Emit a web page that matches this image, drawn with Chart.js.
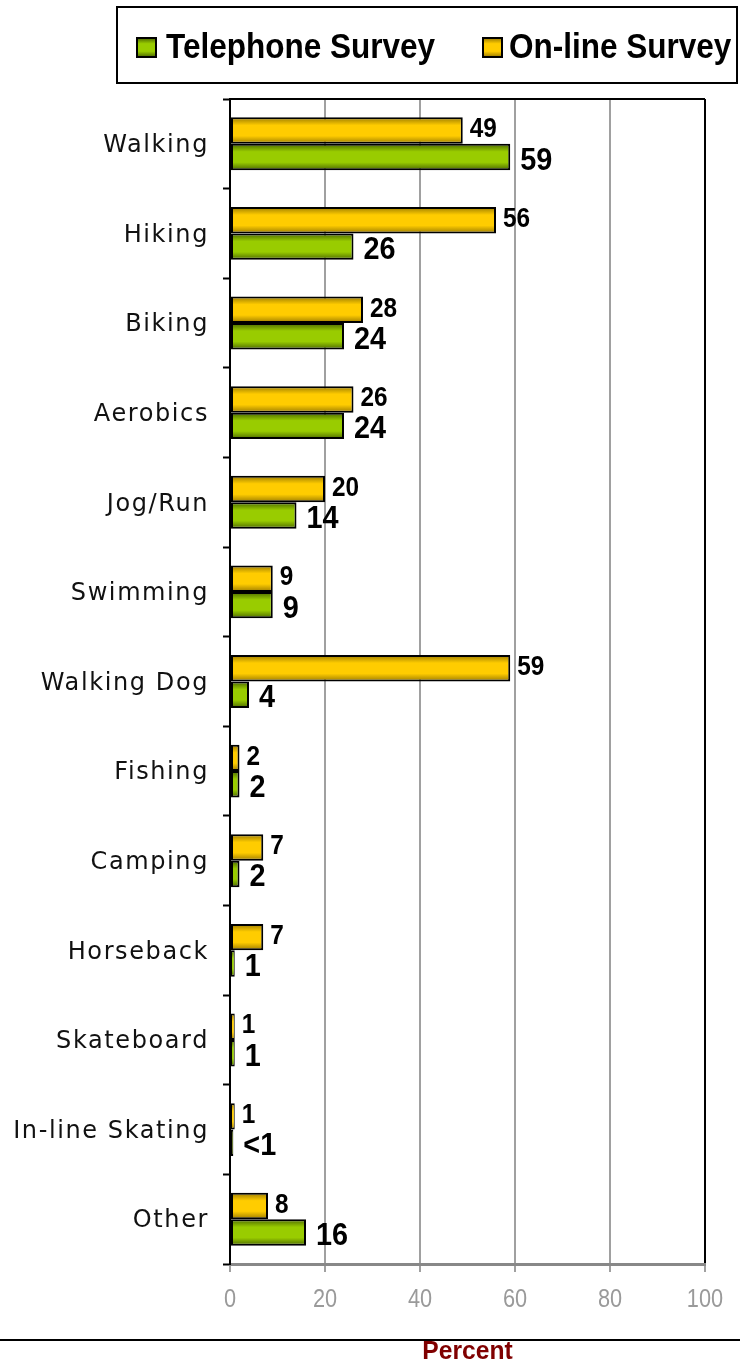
<!DOCTYPE html>
<html>
<head>
<meta charset="utf-8">
<script src="https://cdn.jsdelivr.net/npm/chart.js@4.4.1/dist/chart.umd.min.js"></script>
<style>
  html, body { margin: 0; padding: 0; background: #fff; }
  #wrap { width: 740px; height: 1365px; position: relative; }
</style>
</head>
<body>
<div id="wrap"><canvas id="c"></canvas></div>
<script>
const categories = ['Walking', 'Hiking', 'Biking', 'Aerobics', 'Jog/Run', 'Swimming', 'Walking Dog',
  'Fishing', 'Camping', 'Horseback', 'Skateboard', 'In-line Skating', 'Other'];
const telephone = [59, 26, 24, 24, 14, 9, 4, 2, 2, 1, 1, 0.7, 16];
const online = [49, 56, 28, 26, 20, 9, 59, 2, 7, 7, 1, 1, 8];
const telephoneLabels = ['59', '26', '24', '24', '14', '9', '4', '2', '2', '1', '1', '<1', '16'];
const onlineLabels = ['49', '56', '28', '26', '20', '9', '59', '2', '7', '7', '1', '1', '8'];
const xTicks = [0, 20, 40, 60, 80, 100];
const axisTitle = 'Percent';

const GREEN = { light: '#99cc00', dark: '#4a6600' };
const ORANGE = { light: '#ffcc00', dark: '#9a7a00' };
const ARIAL = '"Liberation Sans", Arial, sans-serif';

function condensedFill(ctx, sx, text, x, y) {
  ctx.save();
  ctx.translate(x, y);
  ctx.scale(sx, 1);
  ctx.fillText(text, 0, 0);
  ctx.restore();
}
function withCondensed(ctx, sx, fn) {
  const orig = ctx.fillText;
  ctx.fillText = function (t, x, y) {
    this.save();
    this.translate(x, y);
    this.scale(sx, 1);
    orig.call(this, t, 0, 0);
    this.restore();
  };
  try { fn(); } finally { delete ctx.fillText; if (ctx.fillText !== orig) ctx.fillText = orig; }
}

class SpacedCategoryScale extends Chart.CategoryScale {
  drawLabels(area) {
    const ctx = this.ctx;
    ctx.save();
    ctx.letterSpacing = '1.6px';
    ctx.translate(0, 2);
    super.drawLabels(area);
    ctx.restore();
  }
}
SpacedCategoryScale.id = 'spacedCategory';
SpacedCategoryScale.defaults = Chart.CategoryScale.defaults;

class CondensedLinearScale extends Chart.LinearScale {
  drawLabels(area) {
    withCondensed(this.ctx, 0.87, () => super.drawLabels(area));
  }
  drawTitle() {
    withCondensed(this.ctx, 0.93, () => super.drawTitle());
  }
}
CondensedLinearScale.id = 'condensedLinear';
CondensedLinearScale.defaults = Chart.LinearScale.defaults;
Chart.register(SpacedCategoryScale, CondensedLinearScale);

function makeGrad(ctx, top, h, col) {
  const g = ctx.createLinearGradient(0, top, 0, top + h);
  g.addColorStop(0, col.dark);
  g.addColorStop(0.3, col.light);
  g.addColorStop(0.7, col.light);
  g.addColorStop(1, col.dark);
  return g;
}
function barFill(col) {
  return c => {
    const el = c.element;
    if (!el || el.y == null || !isFinite(el.y) || !el.height) return col.light;
    return makeGrad(c.chart.ctx, el.y - el.height / 2, el.height, col);
  };
}
function barBorder(c) {
  const el = c.element;
  if (el && isFinite(el.x) && isFinite(el.base) && Math.abs(el.x - el.base) < 8) {
    return { top: 2, bottom: 2, left: 1, right: 1 };
  }
  return 2;
}

const decorPlugin = {
  id: 'decor',
  afterDatasetsDraw(chart) {
    const ctx = chart.ctx;
    const area = chart.chartArea;
    ctx.save();
    ctx.strokeStyle = '#000';
    ctx.lineWidth = 2;
    ctx.beginPath();
    ctx.moveTo(area.left, area.top);
    ctx.lineTo(area.right, area.top);
    ctx.stroke();
    ctx.restore();
    chart.data.datasets.forEach((ds, di) => {
      const meta = chart.getDatasetMeta(di);
      meta.data.forEach((el, i) => {
        ctx.save();
        ctx.fillStyle = '#000';
        ctx.textAlign = 'left';
        ctx.textBaseline = 'middle';
        ctx.font = 'bold ' + ds.labelSize + 'px ' + ARIAL;
        condensedFill(ctx, ds.labelSx, ds.valueLabels[i], el.x + ds.labelDx, el.y + ds.labelDy);
        ctx.restore();
      });
    });
  },
  afterDraw(chart) {
    const ctx = chart.ctx;
    ctx.save();
    ctx.strokeStyle = '#000';
    ctx.lineWidth = 2;
    ctx.beginPath();
    ctx.moveTo(0, 1340);
    ctx.lineTo(740, 1340);
    ctx.stroke();
    ctx.restore();
    // legend
    ctx.save();
    ctx.fillStyle = '#fff';
    ctx.fillRect(117, 7, 620, 76);
    ctx.strokeStyle = '#000';
    ctx.lineWidth = 2;
    ctx.strokeRect(117, 7, 620, 76);
    const items = chart.data.datasets.slice().reverse();
    const xs = [137, 483];
    const gaps = [29, 26];
    items.forEach((ds, k) => {
      const x = xs[k];
      const y = 38, s = 19;
      ctx.fillStyle = makeGrad(ctx, y, s, ds.col);
      ctx.fillRect(x, y, s, s);
      ctx.strokeStyle = '#000';
      ctx.lineWidth = 2;
      ctx.strokeRect(x, y, s, s);
      ctx.fillStyle = '#000';
      ctx.font = 'bold 35px ' + ARIAL;
      ctx.textAlign = 'left';
      ctx.textBaseline = 'middle';
      condensedFill(ctx, 0.9, ds.label, x + gaps[k], y + s / 2 + 1);
    });
    ctx.restore();
  }
};

const chart = new Chart(document.getElementById('c'), {
  type: 'bar',
  data: {
    labels: categories,
    datasets: [
      {
        label: 'On-line Survey',
        data: online,
        valueLabels: onlineLabels,
        col: ORANGE,
        labelSize: 28, labelSx: 0.87, labelDx: 7, labelDy: -1,
        backgroundColor: barFill(ORANGE),
        borderColor: '#000',
        borderWidth: barBorder,
        borderSkipped: false
      },
      {
        label: 'Telephone Survey',
        data: telephone,
        valueLabels: telephoneLabels,
        col: GREEN,
        labelSize: 31, labelSx: 0.93, labelDx: 10, labelDy: 4,
        backgroundColor: barFill(GREEN),
        borderColor: '#000',
        borderWidth: barBorder,
        borderSkipped: false
      }
    ]
  },
  options: {
    indexAxis: 'y',
    responsive: true,
    maintainAspectRatio: false,
    animation: false,
    layout: { padding: { left: 0, right: 35, top: 99, bottom: 0 } },
    datasets: { bar: { categoryPercentage: 0.59, barPercentage: 1.0 } },
    plugins: { legend: { display: false }, tooltip: { enabled: false } },
    scales: {
      x: {
        type: 'condensedLinear',
        min: 0, max: 100,
        afterBuildTicks: s => { s.ticks = xTicks.map(v => ({ value: v })); },
        afterFit: s => { s.height = 101; },
        ticks: {
          font: { family: ARIAL, size: 25 },
          color: '#9a9a9a',
          padding: 13
        },
        grid: {
          color: c => (c.tick && c.tick.value === 100 ? '#000' : '#a0a0a0'),
          lineWidth: 2,
          tickLength: 8,
          tickColor: '#a0a0a0',
          tickWidth: 2
        },
        border: { color: '#888', width: 3 },
        title: {
          display: true,
          text: axisTitle,
          color: '#800000',
          font: { family: ARIAL, size: 26.5, weight: 'bold', lineHeight: 1 },
          padding: { top: 0, bottom: 0 }
        }
      },
      y: {
        type: 'spacedCategory',
        afterFit: s => { s.width = 230; },
        ticks: {
          font: { family: '"DejaVu Sans", Verdana, sans-serif', size: 24 },
          color: '#111',
          padding: 14
        },
        grid: {
          offset: true,
          drawOnChartArea: false,
          tickLength: 7,
          tickColor: '#000',
          tickWidth: 2
        },
        border: { color: '#000', width: 2 }
      }
    }
  },
  plugins: [decorPlugin]
});
chart.update();
</script>
</body>
</html>
